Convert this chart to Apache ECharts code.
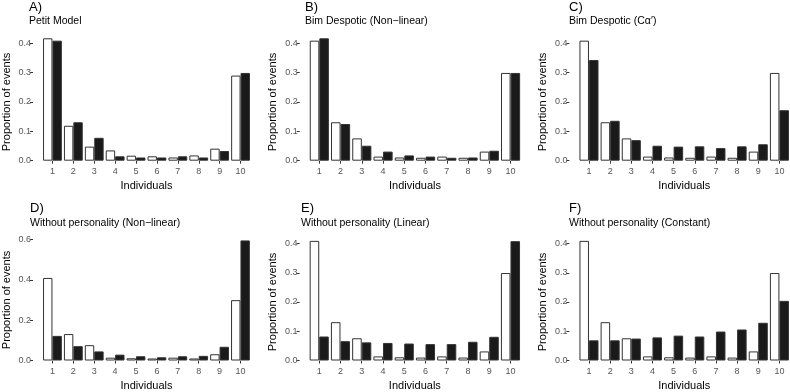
<!DOCTYPE html>
<html>
<head>
<meta charset="utf-8">
<script src="https://cdn.jsdelivr.net/npm/echarts@6/dist/echarts.min.js"></script>
<style>
  html, body { margin: 0; padding: 0; background: #fff; }
  #main { width: 790px; height: 392px; }
</style>
</head>
<body>
<div id="main"></div>
<script>
// individuals on the x axis
const individuals = ['1', '2', '3', '4', '5', '6', '7', '8', '9', '10'];

// white bars (observed) and black bars (model) per panel
const petitObs   = [0.417, 0.119, 0.048, 0.035, 0.017, 0.015, 0.011, 0.018, 0.041, 0.290];
const petitModel = [0.409, 0.131, 0.078, 0.015, 0.011, 0.011, 0.015, 0.011, 0.033, 0.299];

const observed = [0.409, 0.131, 0.076, 0.014, 0.011, 0.010, 0.014, 0.010, 0.031, 0.299];

const bimNonLinear   = [0.417, 0.125, 0.051, 0.031, 0.018, 0.014, 0.010, 0.011, 0.034, 0.299];
const bimCalpha      = [0.343, 0.136, 0.070, 0.051, 0.048, 0.049, 0.043, 0.049, 0.056, 0.172];
const woNonLinear    = [0.122, 0.071, 0.045, 0.029, 0.021, 0.016, 0.021, 0.023, 0.068, 0.595];
const woLinear       = [0.082, 0.066, 0.062, 0.060, 0.058, 0.056, 0.056, 0.064, 0.081, 0.408];
const woConstant     = [0.069, 0.069, 0.075, 0.079, 0.085, 0.082, 0.099, 0.106, 0.129, 0.204];

const panels = [
  { tag: 'A)', title: 'Petit Model', obs: petitObs, mod: petitModel,
    left: 38.5, top: 43.3, height: 117.4, max: 0.4, interval: 0.1, tagX: 29, tagY: 7, titleY: 21 },
  { tag: 'B)', title: 'Bim Despotic (Non\u2212linear)', obs: observed, mod: bimNonLinear,
    left: 308.7, top: 43.3, height: 117.4, max: 0.4, interval: 0.1, tagX: 305, tagY: 7, titleY: 21 },
  { tag: 'C)', title: 'Bim Despotic (C\u03b1\u2032)', obs: observed, mod: bimCalpha,
    left: 578.4, top: 43.3, height: 117.4, max: 0.4, interval: 0.1, tagX: 569, tagY: 7, titleY: 21 },
  { tag: 'D)', title: 'Without personality (Non\u2212linear)', obs: observed, mod: woNonLinear,
    left: 38.4, top: 239.4, height: 123.2, max: 0.6, interval: 0.2, tagX: 30, tagY: 208, titleY: 223.5 },
  { tag: 'E)', title: 'Without personality (Linear)', obs: observed, mod: woLinear,
    left: 308.6, top: 243.5, height: 118.8, max: 0.4, interval: 0.1, tagX: 301, tagY: 208, titleY: 223.5 },
  { tag: 'F)', title: 'Without personality (Constant)', obs: observed, mod: woConstant,
    left: 578.4, top: 243.5, height: 118.8, max: 0.4, interval: 0.1, tagX: 569, tagY: 208, titleY: 223.5 }
];

const font = '"Liberation Sans", Arial, Helvetica, sans-serif';
const chart = echarts.init(document.getElementById('main'));

let grid = [], xAxis = [], yAxis = [], series = [], graphic = [];

panels.forEach((p, i) => {
  grid.push({ left: p.left, top: p.top, width: 212.5, height: p.height });
  xAxis.push({
    type: 'category', gridIndex: i, data: individuals, offset: 3.5,
    name: 'Individuals', nameLocation: 'middle', nameGap: 16,
    nameTextStyle: { fontFamily: font, fontSize: 11, color: '#000' },
    axisLine: { show: false },
    axisTick: { show: true, alignWithLabel: true, length: 3, lineStyle: { color: '#333' } },
    axisLabel: { fontFamily: font, fontSize: 9, color: '#555', margin: 3 }
  });
  yAxis.push({
    type: 'value', gridIndex: i, min: 0, max: p.max, interval: p.interval, offset: 9,
    name: 'Proportion of events', nameLocation: 'middle', nameGap: 21,
    nameTextStyle: { fontFamily: font, fontSize: 11, color: '#000' },
    axisLine: { show: false },
    splitLine: { show: false },
    axisTick: { show: true, length: 3, lineStyle: { color: '#333' } },
    axisLabel: { fontFamily: font, fontSize: 9, color: '#555', margin: 2,
      formatter: v => v.toFixed(1) }
  });
  series.push({
    type: 'bar', xAxisIndex: i, yAxisIndex: i, data: p.obs, clip: false,
    barGap: 0, barCategoryGap: '10%', silent: true,
    itemStyle: { color: '#fff', borderColor: '#333', borderWidth: 1 }
  });
  series.push({
    type: 'bar', xAxisIndex: i, yAxisIndex: i, data: p.mod, clip: false,
    barGap: 0, barCategoryGap: '10%', silent: true,
    itemStyle: { color: '#1a1a1a', borderColor: '#333', borderWidth: 1 }
  });
  graphic.push({
    type: 'text', x: p.tagX, y: p.tagY,
    style: { text: p.tag, font: '13px ' + font, fill: '#000', verticalAlign: 'middle' }
  });
  graphic.push({
    type: 'text', x: p.tagX, y: p.titleY,
    style: { text: p.title, font: '10.5px ' + font, fill: '#000', verticalAlign: 'middle' }
  });
});

const option = {
  backgroundColor: '#fff',
  animation: false,
  grid: grid,
  xAxis: xAxis,
  yAxis: yAxis,
  series: series,
  graphic: graphic
};

chart.setOption(option);
</script>
</body>
</html>
